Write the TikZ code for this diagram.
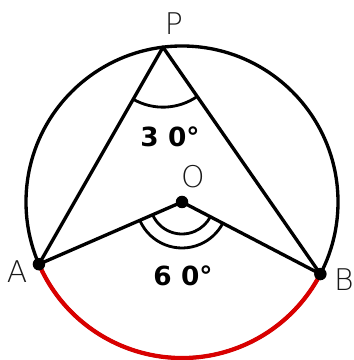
\documentclass[tikz,border=0pt]{standalone}
\usepackage{fontspec}
\setsansfont{DejaVu Sans}
\IfFontExistsTF{DejaVu Sans ExtraLight}
  {\newfontfamily\thinfont{DejaVu Sans ExtraLight}}
  {\newfontfamily\thinfont{DejaVu Sans}}
\usetikzlibrary{angles}

\begin{document}
\begin{tikzpicture}[line width=1.9pt,
  ptlabel/.style={font=\thinfont\fontsize{17}{20}\selectfont, text=black!90},
  anglabel/.style={font=\sffamily\bfseries\fontsize{15}{18}\selectfont},
  dot/.style={circle, fill, inner sep=0pt, minimum size=0.25cm}]
\useasboundingbox (-3.64,-3.16) rectangle (3.42,4.04);
\def\R{3.12}
\coordinate (O) at (0,0);
\coordinate (P) at (97:\R);
\coordinate (A) at (203.5:\R);
\coordinate (B) at (332.5:\R);

% Circle and the red arc AB
\draw (O) circle (\R);
\draw[red!85!black, line width=2.4pt] (A) arc (203.5:332.5:\R);

% Chords from P, radii from O
\draw[line join=round] (A) -- (P) -- (B);
\draw[line join=round] (A) -- (O) -- (B);

% Angle marks
\pic[draw, line width=1.6pt, angle radius=1.2cm] {angle=A--P--B};
\pic[draw, line width=1.6pt, angle radius=0.64cm] {angle=A--O--B};
\pic[draw, line width=1.6pt, angle radius=0.92cm] {angle=A--O--B};

% Points
\node[dot] (dotO) at (O) {};
\node[dot] (dotA) at (A) {};
\node[dot] (dotB) at (B) {};

% Labels
\node[ptlabel] (labP) at (-0.16,3.56) {P};
\node[ptlabel] (labO) at (0.22,0.50) {O};
\node[ptlabel] (labA) at (-3.30,-1.40) {A};
\node[ptlabel] (labB) at (3.24,-1.56) {B};
\node[anglabel] (ang30) at (-0.24,1.30) {3 0°};
\node[anglabel] (ang60) at (0.02,-1.48) {6 0°};
\end{tikzpicture}
\end{document}
